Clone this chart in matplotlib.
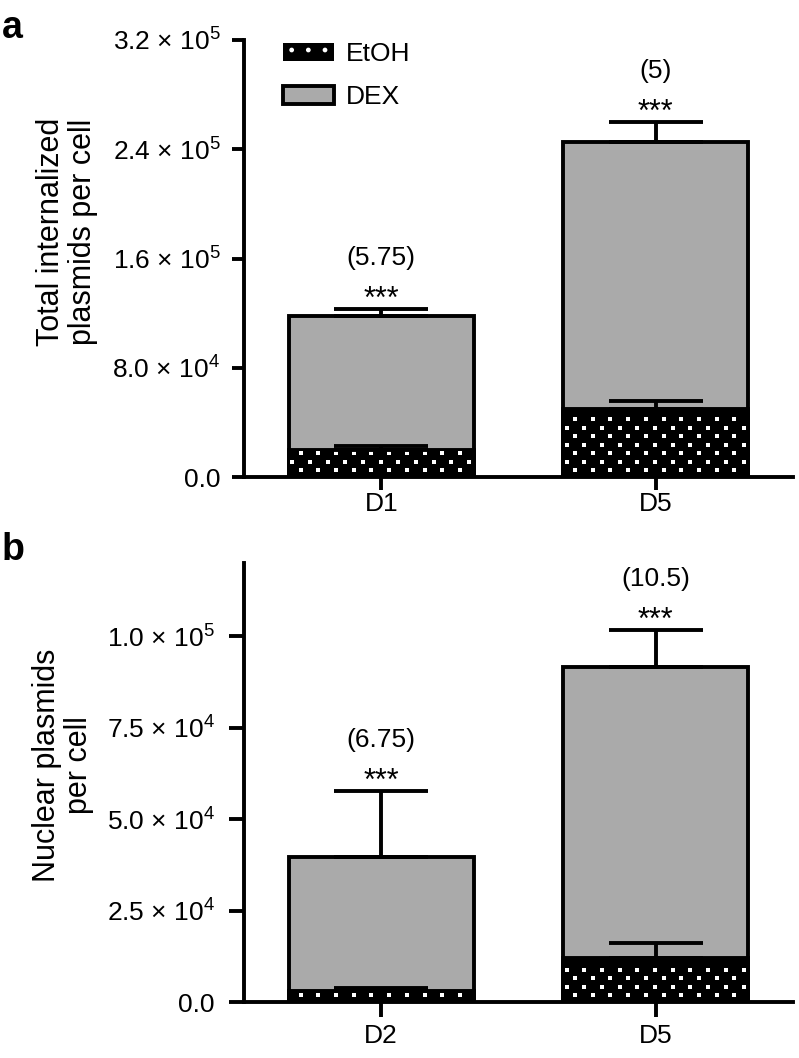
import numpy as np
import matplotlib
matplotlib.use('Agg')
import matplotlib.pyplot as plt
from matplotlib.patches import Patch
from matplotlib.ticker import FixedLocator, FuncFormatter

plt.rcParams['font.family'] = ['Liberation Sans', 'DejaVu Sans']
plt.rcParams['mathtext.fontset'] = 'custom'
plt.rcParams['mathtext.rm'] = 'Liberation Sans'
plt.rcParams['mathtext.it'] = 'Liberation Sans:italic'
plt.rcParams['mathtext.bf'] = 'Liberation Sans:bold'

# panel a: total internalized plasmids per cell
groups_a = ['D1', 'D5']
etoh_a = [2.0e4, 5.0e4]
etoh_err_a = [2.6e3, 6.0e3]
dex_a = [1.18e5, 2.45e5]
dex_err_a = [5.0e3, 1.5e4]
fold_a = [5.75, 5]
yticks_a = [0, 8.0e4, 1.6e5, 2.4e5, 3.2e5]

# panel b: nuclear plasmids per cell
groups_b = ['D2', 'D5']
etoh_b = [3.0e3, 1.2e4]
etoh_err_b = [8.0e2, 4.0e3]
dex_b = [3.97e4, 9.15e4]
dex_err_b = [1.8e4, 1.02e4]
fold_b = [6.75, 10.5]
yticks_b = [0, 2.5e4, 5.0e4, 7.5e4, 1.0e5]

GRAY = '#aaaaaa'
LW = 2.8
FS = 19


def sci_fmt(v, pos):
    if v == 0:
        return '0.0'
    exp = int(np.floor(np.log10(abs(v))))
    mant = v / 10 ** exp
    return '%.1f × 10$^{%d}$' % (mant, exp)


def add_dots(ax, bars):
    # white square dot texture on the EtOH bars
    inv = ax.transData.inverted()
    for bar in bars:
        bb = bar.get_window_extent()
        xs, ys = [], []
        row = 0
        y = bb.y0 + 7
        while y < bb.y1 - 3:
            x = bb.x0 + (12 if row % 2 == 0 else 3.5)
            while x < bb.x1 - 3:
                xs.append(x)
                ys.append(y)
                x += 17.7
            y += 8.5
            row += 1
        if not xs:
            continue
        pts = inv.transform(np.column_stack([xs, ys]))
        sc = ax.scatter(pts[:, 0], pts[:, 1], marker='s', s=11, c='white',
                        linewidths=0, zorder=3.5)
        sc.set_clip_path(bar)


def panel(ax, groups, etoh, etoh_err, dex, dex_err, fold, yticks, ymax,
          tick_len, tick_pad, xpad):
    x = np.arange(len(groups))
    w = 0.675
    ax.set_xlim(-0.5, 1.5)
    ax.set_ylim(0, ymax)

    ax.bar(x, dex, w, color=GRAY, edgecolor='black', linewidth=LW, zorder=2)
    ax.errorbar(x, dex, yerr=[np.zeros(len(x)), dex_err], fmt='none',
                ecolor='black', elinewidth=LW, capsize=34, capthick=LW,
                zorder=2.5)
    bars = ax.bar(x, etoh, w, color='black', edgecolor='black',
                  linewidth=LW, zorder=3)
    ax.errorbar(x, etoh, yerr=[np.zeros(len(x)), etoh_err], fmt='none',
                ecolor='black', elinewidth=LW, capsize=34, capthick=LW,
                zorder=4)
    add_dots(ax, bars)

    for xi, top, f in zip(x, np.array(dex) + np.array(dex_err), fold):
        ax.annotate('***', (xi, top), xytext=(0, 1), textcoords='offset points',
                    ha='center', va='baseline', fontsize=22)
        ax.annotate(f'({f:g})', (xi, top), xytext=(0, 37),
                    textcoords='offset points', ha='center', va='center',
                    fontsize=FS)

    ax.yaxis.set_major_locator(FixedLocator(yticks))
    ax.yaxis.set_major_formatter(FuncFormatter(sci_fmt))
    ax.set_xticks(x)
    ax.set_xticklabels(groups)
    for s in ['top', 'right']:
        ax.spines[s].set_visible(False)
    for s in ['left', 'bottom']:
        ax.spines[s].set_linewidth(LW)
    ax.tick_params(axis='y', length=tick_len, width=LW, pad=tick_pad,
                   labelsize=FS)
    ax.tick_params(axis='x', length=tick_len, width=LW, pad=xpad,
                   labelsize=FS)


fig = plt.figure(figsize=(7.99, 10.58), dpi=100)
ax_a = fig.add_axes([0.3054, 0.5491, 0.687, 0.4131])
ax_b = fig.add_axes([0.3054, 0.0529, 0.687, 0.4150])

panel(ax_a, groups_a, etoh_a, etoh_err_a, dex_a, dex_err_a, fold_a,
      yticks_a, 3.2e5, 9, 8, 2)
panel(ax_b, groups_b, etoh_b, etoh_err_b, dex_b, dex_err_b, fold_b,
      yticks_b, 1.2e5, 11, 10, 5)

handles = [Patch(facecolor='black', edgecolor='white', hatch='.', linewidth=0),
           Patch(facecolor=GRAY, edgecolor='black', linewidth=LW)]
ax_a.legend(handles, ['EtOH', 'DEX'], loc='upper left',
            bbox_to_anchor=(0.071, 0.995), frameon=False, fontsize=FS,
            handlelength=1.95, handleheight=0.72, labelspacing=0.72,
            handletextpad=0.45, borderpad=0, borderaxespad=0)

fig.text(67 / 799, 1 - 232 / 1058, 'Total internalized\nplasmids per cell',
         rotation=90, ha='center', va='center', fontsize=22, linespacing=1.05)
fig.text(63 / 799, 1 - 765 / 1058, 'Nuclear plasmids\nper cell',
         rotation=90, ha='center', va='center', fontsize=22, linespacing=1.05)

fig.text(2 / 799, 1 - 38 / 1058, 'a', fontsize=27, fontweight='bold',
         ha='left', va='baseline')
fig.text(2 / 799, 1 - 560 / 1058, 'b', fontsize=27, fontweight='bold',
         ha='left', va='baseline')

fig.savefig('out.png', dpi=100)
